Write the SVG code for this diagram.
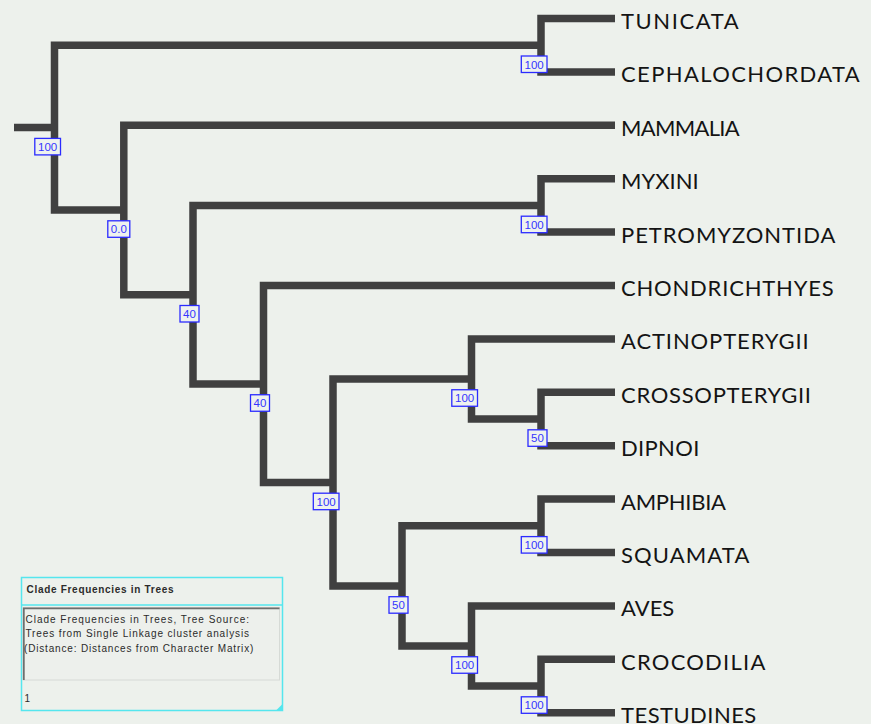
<svg xmlns="http://www.w3.org/2000/svg" width="871" height="724" viewBox="0 0 871 724">
<style>
.br{fill:none;stroke:#404040;stroke-width:7.5;stroke-linejoin:miter;stroke-linecap:butt}
.lf{font-family:Lato,"Open Sans","Liberation Sans",sans-serif;font-size:22px;fill:#141414}
.bx{fill:#eef2ee;stroke:#2b2bff;stroke-width:1.3}
.bt{font-family:"Liberation Sans",Arial,sans-serif;font-size:11.5px;fill:#3535ff;text-anchor:middle}
.lg{font-family:"Liberation Sans",Arial,sans-serif;font-size:10px;fill:#2b2b2b}
</style>
<rect width="871" height="724" fill="#edf1ec"/>
<g id="connectors">
<path class="br" d="M14 127.6 H54.5"/>
<path class="br" d="M541 45.2 H54.5 V210 H123.8"/>
<path class="br" d="M615 18.5 H541 V71.9 H615"/>
<path class="br" d="M615 125.3 H123.8 V294.7 H193"/>
<path class="br" d="M541 205.4 H193 V383.95 H263.5"/>
<path class="br" d="M615 178.7 H541 V232.1 H615"/>
<path class="br" d="M615 285.5 H263.5 V482.4 H333"/>
<path class="br" d="M471.5 378.95 H333 V585.9 H402"/>
<path class="br" d="M615 338.9 H471.5 V419 H541"/>
<path class="br" d="M615 392.3 H541 V445.7 H615"/>
<path class="br" d="M541 525.8 H402 V645.95 H471.5"/>
<path class="br" d="M615 499.1 H541 V552.5 H615"/>
<path class="br" d="M615 605.9 H471.5 V686 H541"/>
<path class="br" d="M615 659.3 H541 V712.7 H615"/>
</g>
<g id="leaf-tunicata"><text class="lf" x="621" y="29" textLength="117.6">TUNICATA</text></g>
<g id="leaf-cephalochordata"><text class="lf" x="621" y="82.4" textLength="238.7">CEPHALOCHORDATA</text></g>
<g id="leaf-mammalia"><text class="lf" x="621" y="135.8" textLength="118.7">MAMMALIA</text></g>
<g id="leaf-myxini"><text class="lf" x="621" y="189.2" textLength="77.7">MYXINI</text></g>
<g id="leaf-petromyzontida"><text class="lf" x="621" y="242.6" textLength="214.3">PETROMYZONTIDA</text></g>
<g id="leaf-chondrichthyes"><text class="lf" x="621" y="296" textLength="212.6">CHONDRICHTHYES</text></g>
<g id="leaf-actinopterygii"><text class="lf" x="621" y="349.4" textLength="187.7">ACTINOPTERYGII</text></g>
<g id="leaf-crossopterygii"><text class="lf" x="621" y="402.8" textLength="190">CROSSOPTERYGII</text></g>
<g id="leaf-dipnoi"><text class="lf" x="621" y="456.2" textLength="78.3">DIPNOI</text></g>
<g id="leaf-amphibia"><text class="lf" x="621" y="509.6" textLength="105">AMPHIBIA</text></g>
<g id="leaf-squamata"><text class="lf" x="621" y="563" textLength="128.3">SQUAMATA</text></g>
<g id="leaf-aves"><text class="lf" x="621" y="616.4" textLength="53.3">AVES</text></g>
<g id="leaf-crocodilia"><text class="lf" x="621" y="669.8" textLength="144.3">CROCODILIA</text></g>
<g id="leaf-testudines"><text class="lf" x="621" y="723.2" textLength="135.3">TESTUDINES</text></g>
<g id="node-root"><rect class="bx" x="34.8" y="138.4" width="25.7" height="16.5"/><text class="bt" x="47.65" y="151">100</text></g>
<g id="node-A"><rect class="bx" x="521.3" y="56" width="25.7" height="16.5"/><text class="bt" x="534.15" y="68.6">100</text></g>
<g id="node-L"><rect class="bx" x="107.8" y="220.8" width="22" height="16.5"/><text class="bt" x="118.8" y="233.4">0.0</text></g>
<g id="node-B"><rect class="bx" x="521.3" y="216.2" width="25.7" height="16.5"/><text class="bt" x="534.15" y="228.8">100</text></g>
<g id="node-K"><rect class="bx" x="180" y="305.5" width="19" height="16.5"/><text class="bt" x="189.5" y="318.1">40</text></g>
<g id="node-J"><rect class="bx" x="250.5" y="394.75" width="19" height="16.5"/><text class="bt" x="260" y="407.35">40</text></g>
<g id="node-I"><rect class="bx" x="313.3" y="493.2" width="25.7" height="16.5"/><text class="bt" x="326.15" y="505.8">100</text></g>
<g id="node-F"><rect class="bx" x="451.8" y="389.75" width="25.7" height="16.5"/><text class="bt" x="464.65" y="402.35">100</text></g>
<g id="node-C"><rect class="bx" x="528" y="429.8" width="19" height="16.5"/><text class="bt" x="537.5" y="442.4">50</text></g>
<g id="node-H"><rect class="bx" x="389" y="596.7" width="19" height="16.5"/><text class="bt" x="398.5" y="609.3">50</text></g>
<g id="node-D"><rect class="bx" x="521.3" y="536.6" width="25.7" height="16.5"/><text class="bt" x="534.15" y="549.2">100</text></g>
<g id="node-G"><rect class="bx" x="451.8" y="656.75" width="25.7" height="16.5"/><text class="bt" x="464.65" y="669.35">100</text></g>
<g id="node-E"><rect class="bx" x="521.3" y="696.8" width="25.7" height="16.5"/><text class="bt" x="534.15" y="709.4">100</text></g>
<g id="legend">
<rect x="21.5" y="577.5" width="261" height="133" fill="#edf1ec" stroke="#55e6ee" stroke-width="1.5"/>
<text class="lg" x="26.5" y="592.5" font-size="9.5" font-weight="bold" fill="#333" textLength="147">Clade Frequencies in Trees</text>
<line x1="22" y1="605" x2="282" y2="605" stroke="#55e6ee" stroke-width="1.5"/>
<rect x="23" y="607.5" width="256.5" height="72.5" fill="#edf0ec" stroke="#d6dad6" stroke-width="1"/>
<path d="M23.8 680 V608.3 H279.5" fill="none" stroke="#6e6e6e" stroke-width="1.8"/>
<text class="lg" x="25.5" y="622.5" textLength="223.5">Clade Frequencies in Trees, Tree Source:</text>
<text class="lg" x="25.5" y="637" textLength="223.5">Trees from Single Linkage cluster analysis</text>
<text class="lg" x="24" y="651.5" textLength="229.3">(Distance: Distances from Character Matrix)</text>
<text class="lg" x="24.5" y="702">1</text>
<polygon points="282.5,704 282.5,710.5 276,710.5" fill="#55e6ee"/>
</g>
</svg>
